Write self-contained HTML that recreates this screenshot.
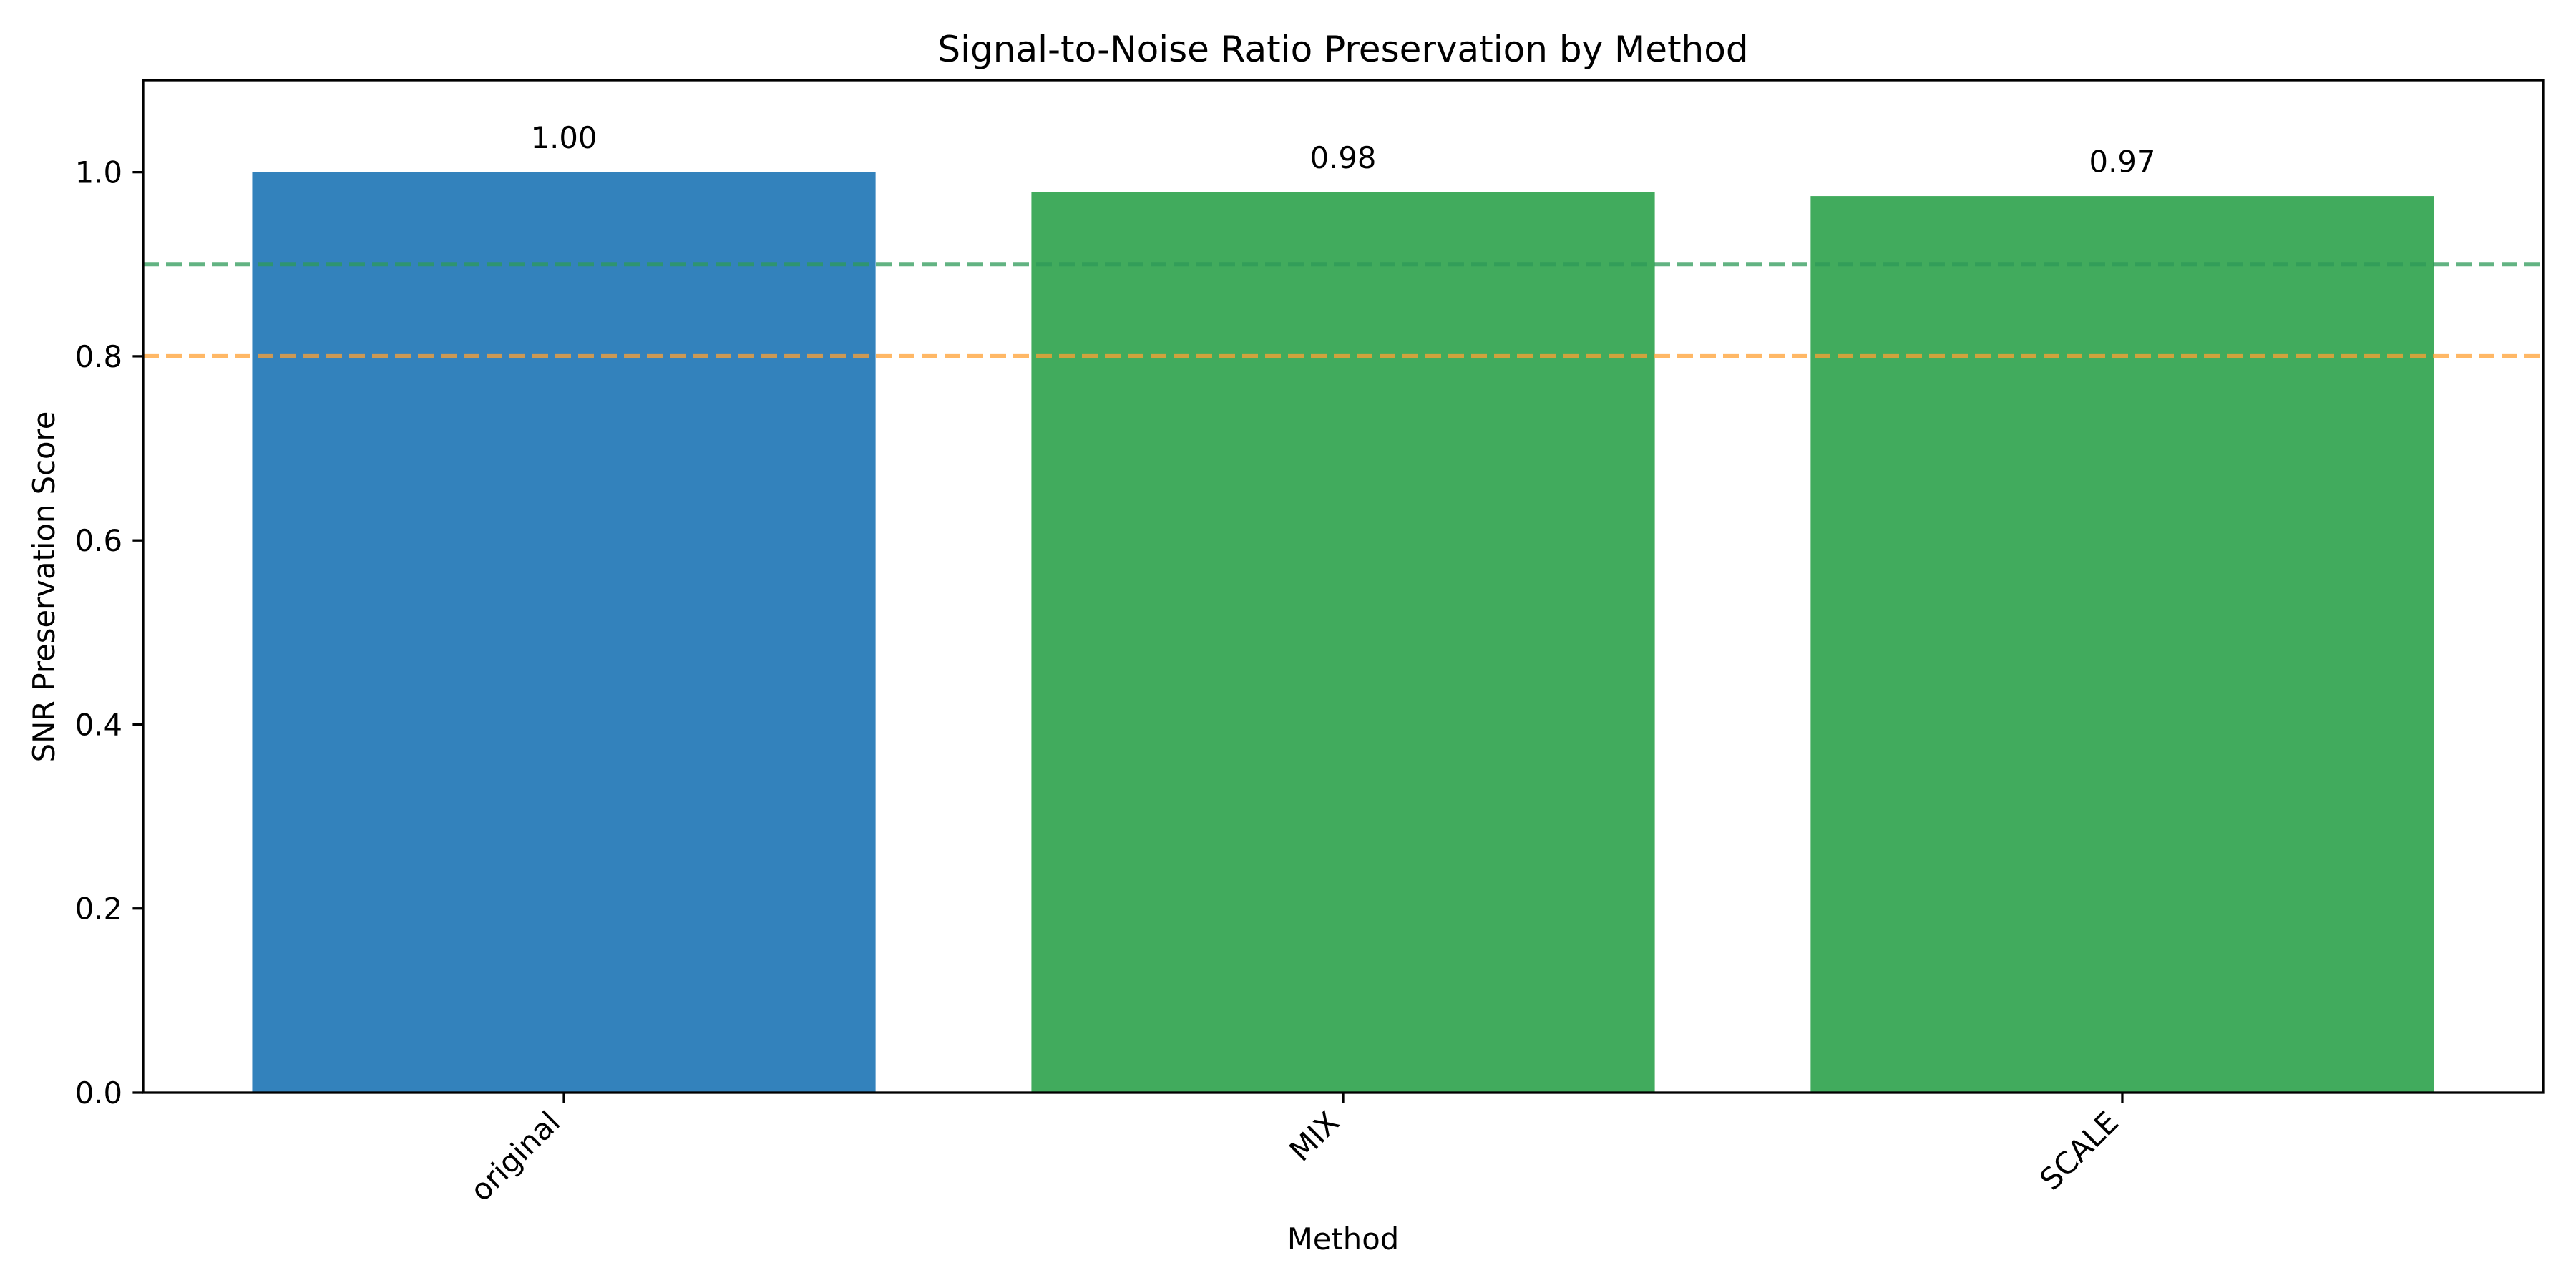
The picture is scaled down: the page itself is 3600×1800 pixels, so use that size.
<!DOCTYPE html>
<html><head><meta charset="utf-8"><style>html,body{margin:0;padding:0;background:#fff}svg{display:block}text{font-family:"DejaVu Sans","Liberation Sans",sans-serif}</style></head>
<body>
<svg id="chart" width="3600" height="1800" viewBox="0 0 3600 1800" xmlns="http://www.w3.org/2000/svg">
<rect width="3600" height="1800" fill="#fff"/>
<text x="1877" y="86" font-size="50" text-anchor="middle">Signal-to-Noise Ratio Preservation by Method</text>
<g id="plot"></g>
<text x="1877" y="1746" font-size="41.7" text-anchor="middle">Method</text>
<text transform="translate(76,820) rotate(-90)" font-size="41.7" text-anchor="middle">SNR Preservation Score</text>
</svg>
<script>
const categories = ["original", "MIX", "SCALE"];
const values = [1.0, 0.978, 0.974];
const barColors = ["#3382bc", "#41ab5d", "#41ab5d"];
const yTicks = [0.0, 0.2, 0.4, 0.6, 0.8, 1.0];
const refLines = [0.9, 0.8];
const refColors = ["#2e9a58", "#ffa033"];

const L=200,R=3554,T=112,B=1527;
const xMin=-0.54,xMax=2.54,yMin=0,yMax=1.1;
const xs=v=>L+(v-xMin)/(xMax-xMin)*(R-L);
const ys=v=>B-(v-yMin)/(yMax-yMin)*(B-T);
const NS="http://www.w3.org/2000/svg";
const g=document.getElementById('plot');
function mk(t,a){const e=document.createElementNS(NS,t);for(const k in a)e.setAttribute(k,a[k]);g.appendChild(e);return e;}

categories.forEach((c,i)=>{
  const r=mk('rect',{x:xs(i-0.4),y:ys(values[i]),width:xs(i+0.4)-xs(i-0.4),height:ys(0)-ys(values[i]),fill:barColors[i]});
  
  
  const t=mk('text',{x:xs(i),y:ys(values[i]+0.02)-8,'font-size':41.7,'text-anchor':'middle'});
  t.textContent=values[i].toFixed(2);
  
  
  const tk=mk('line',{x1:xs(i),x2:xs(i),y1:B,y2:B+14.6,stroke:'#000','stroke-width':3.3});
  
  
  const xl=mk('text',{'font-size':41.7,'text-anchor':'end',transform:`translate(${xs(i)-25},${B+22}) rotate(-45)`,dy:'0.75em'});
  xl.textContent=c;
  
  
});
refLines.forEach((v,i)=>{
  const l=mk('line',{x1:L,x2:R,y1:ys(v),y2:ys(v),stroke:refColors[i],'stroke-width':6,'stroke-dasharray':'22 10','stroke-opacity':0.75});
  
  
});
yTicks.forEach(v=>{
  const tk=mk('line',{x1:L-14.6,x2:L,y1:ys(v),y2:ys(v),stroke:'#000','stroke-width':3.3});
  
  
  const t=mk('text',{x:L-29,y:ys(v)+15,'font-size':41.7,'text-anchor':'end'});
  t.textContent=v.toFixed(1);
  
  
});
const fr=mk('rect',{x:L,y:T,width:R-L,height:B-T,fill:'none',stroke:'#000','stroke-width':3.3});


</script>
</body></html>
